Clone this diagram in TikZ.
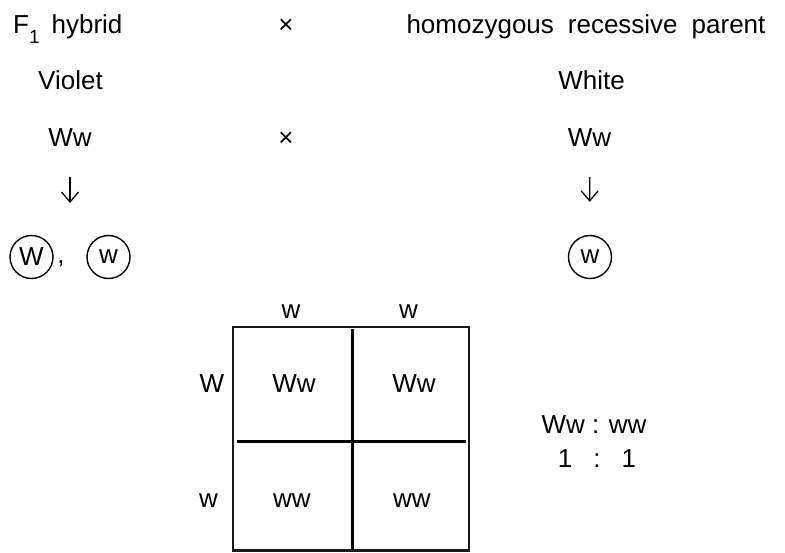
\documentclass[tikz,border=0pt]{standalone}
\usepackage{fontspec}
\setmainfont{Liberation Sans}
\usetikzlibrary{positioning,arrows.meta}

\begin{document}
\begin{tikzpicture}[x=1pt,y=-1pt,font=\fontsize{26}{30}\selectfont,
    txt/.style={anchor=base,inner sep=0pt},
    gamete/.style={circle,draw,line width=1.4pt,minimum size=43pt,inner sep=0pt},
    down/.style={line width=1.3pt,-{Straight Barb[length=10pt,width=17pt]}},
    square/.style={line width=2.6pt,draw=black!90},
    split/.style={line width=3pt}]
    \useasboundingbox (0,0) rectangle (785,552);
    \node[txt,anchor=base west] (f_1) at (13,33) {F\raisebox{-10pt}{\fontsize{19}{19}\selectfont 1}\hspace{12pt}hybrid};
    \node[txt] (x_1) at (286,33) {×};
    \node[txt] (r_1) at (586,33) {homozygous\hspace{14pt}recessive\hspace{14pt}parent};
    \node[txt] (v_1) at (70.5,89) {Violet};
    \node[txt] (w_2) at (591.5,89) {White};
    \node[txt] (p_1) at (70,146) {Ww};
    \node[txt] (x_2) at (286,146) {×};
    \node[txt] (p_2) at (589.5,146) {Ww};
    \node[gamete] (g_1) at (31.5,257) {W};
    \node[gamete] (g_2) at (108.5,257) {w};
    \node[txt] (comma) at (61,263) {,};
    \node[gamete] (g_3) at (590,257) {w};
    \coordinate (g_12) at (70,236);
    \path[down]
    (p_1.south) edge[shorten <=31pt,shorten >=33pt] (g_12)
    (p_2.south) edge[shorten <=31pt,shorten >=33pt] (g_3);

    \draw[square] (233,327) rectangle (469,550.7);
    \draw[split] (352,329) -- (352,550) (237,441) -- (466,441);
    \node[txt] (h_1) at (291,318) {w};
    \node[txt] (h_2) at (408.5,318) {w};
    \node[txt] (h_3) at (212,392) {W};
    \node[txt] (h_4) at (208.5,507) {w};
    \node[txt] (c_11) at (294,392) {Ww};
    \node[txt] (c_12) at (414,392) {Ww};
    \node[txt] (c_21) at (292,507) {ww};
    \node[txt] (c_22) at (412,507) {ww};
    \node[txt] (ratio) at (594,433) {Ww : ww};
    \node[txt] (count) at (597,467) {1\hspace{21pt}:\hspace{21pt}1};
\end{tikzpicture}
\end{document}
